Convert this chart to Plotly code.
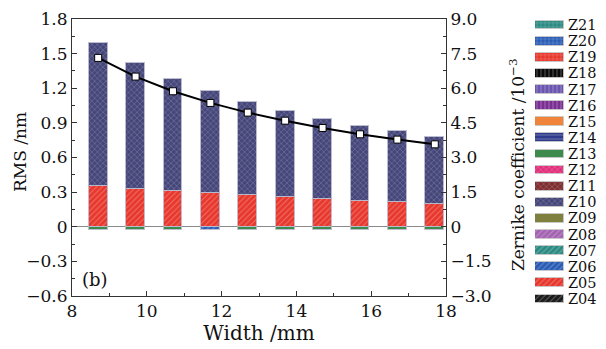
import plotly.graph_objects as go

# ---------------- data ----------------
width_mm = [8.7, 9.7, 10.7, 11.7, 12.7, 13.7, 14.7, 15.7, 16.7, 17.7]
rms_nm = [1.463, 1.301, 1.174, 1.073, 0.989, 0.919, 0.856, 0.801, 0.755, 0.714]

# Zernike coefficients (10^-3), stacked bars on right axis
z05 = [1.77, 1.65, 1.56, 1.48, 1.39, 1.29, 1.20, 1.13, 1.06, 1.00]
z10 = [6.18, 5.44, 4.86, 4.38, 4.00, 3.73, 3.47, 3.25, 3.08, 2.89]
z13 = [-0.12, -0.12, -0.12, 0.0, -0.12, -0.12, -0.12, -0.12, -0.12, -0.12]
z06 = [0.0, 0.0, 0.0, -0.12, 0.0, 0.0, 0.0, 0.0, 0.0, 0.0]

terms = ["Z21", "Z20", "Z19", "Z18", "Z17", "Z16", "Z15", "Z14", "Z13",
         "Z12", "Z11", "Z10", "Z09", "Z08", "Z07", "Z06", "Z05", "Z04"]
term_colors = ["#2b8a82", "#2a5cb5", "#e8372c", "#0a0a0a", "#6a56b0", "#7a2e92",
               "#f0843a", "#2e3a8c", "#3c8a4c", "#e2307c", "#7e2e30", "#45467a",
               "#80803e", "#a462b2", "#2b8a82", "#2a5cb5", "#e8372c", "#1a1a1a"]
term_shapes = ["+", "+", "+", "|", "|", "|", "", "-", "",
               "x", "x", "x", "", "/", "/", "/", "/", "/"]

x_ticks = [8, 10, 12, 14, 16, 18]
rms_ticks = [-0.6, -0.3, 0, 0.3, 0.6, 0.9, 1.2, 1.5, 1.8]
rms_text = ["\u22120.6", "\u22120.3", "0", "0.3", "0.6", "0.9", "1.2", "1.5", "1.8"]
zc_ticks = [-3.0, -1.5, 0, 1.5, 3.0, 4.5, 6.0, 7.5, 9.0]
zc_text = ["\u22123.0", "\u22121.5", "0", "1.5", "3.0", "4.5", "6.0", "7.5", "9.0"]

FONT = "DejaVu Serif"
FS = 17
AX = "#333333"

W, H = 606, 349
ML, MR, MT, MB = 72, 10, 10, 40
PW, PH = W - ML - MR, H - MT - MB


def px_x(p):
    return (p - ML) / PW


def px_y(p):
    return (H - MB - p) / PH


def lighten(hexc, f=0.35):
    h = hexc.lstrip("#")
    r, g, b = int(h[0:2], 16), int(h[2:4], 16), int(h[4:6], 16)
    r = int(r + (255 - r) * f)
    g = int(g + (255 - g) * f)
    b = int(b + (255 - b) * f)
    return f"#{r:02x}{g:02x}{b:02x}"


def pattern_for(name):
    i = terms.index(name)
    c = term_colors[i]
    s = term_shapes[i]
    if s == "":
        return dict(color=c, pattern=dict(shape=""))
    return dict(color=c, pattern=dict(shape=s, bgcolor=c, fgcolor=lighten(c, 0.3),
                                      size=4, solidity=0.25, fillmode="replace"))


fig = go.Figure()

# stacked Zernike bars on the (right-side) coefficient axis "y"
series = {"Z05": z05, "Z10": z10, "Z13": z13, "Z06": z06}
for name in ["Z05", "Z10", "Z13", "Z06"]:
    m = pattern_for(name)
    fig.add_trace(go.Bar(
        x=width_mm, y=series[name], width=0.5, name=name,
        marker=dict(color=m["color"], pattern=m["pattern"],
                    line=dict(color="rgba(190,190,210,0.9)", width=1)),
        yaxis="y", xaxis="x", showlegend=False))

# RMS line on the (left-side) RMS axis "y2", drawn above the bars
fig.add_trace(go.Scatter(
    x=width_mm, y=rms_nm, mode="lines+markers", name="RMS",
    line=dict(color="black", width=2),
    marker=dict(symbol="square", size=7, color="white",
                line=dict(color="black", width=1)),
    yaxis="y2", xaxis="x", showlegend=False))

# legend drawn as a small horizontal-bar subplot
for name in terms:
    m = pattern_for(name)
    fig.add_trace(go.Bar(
        x=[1], y=[name], orientation="h", width=0.55,
        marker=dict(color=m["color"], pattern=m["pattern"],
                    line=dict(color="rgba(200,200,200,0.9)", width=1)),
        xaxis="x3", yaxis="y3", showlegend=False, hoverinfo="skip"))

main_dom_x = [0, px_x(446)]
main_dom_y = [px_y(296), px_y(19)]

fig.update_layout(
    width=W, height=H,
    margin=dict(l=ML, r=MR, t=MT, b=MB),
    paper_bgcolor="white", plot_bgcolor="white",
    font=dict(family=FONT, size=FS, color="#111"),
    barmode="relative", bargap=0,
    xaxis=dict(domain=main_dom_x, range=[8, 18], tickvals=x_ticks,
               ticks="inside", ticklen=5, tickcolor=AX,
               minor=dict(dtick=1, tick0=8, ticks="inside", ticklen=3, tickcolor=AX),
               showline=True, linecolor=AX, linewidth=1, mirror=True,
               showgrid=False, zeroline=False, anchor="y",
               title=dict(text="Width /mm", standoff=2), automargin=False),
    yaxis=dict(domain=main_dom_y, range=[-3.0, 9.0], tickvals=zc_ticks, ticktext=zc_text,
               side="right", anchor="x",
               ticks="inside", ticklen=5, tickcolor=AX,
               minor=dict(dtick=0.75, tick0=0, ticks="inside", ticklen=3, tickcolor=AX),
               showline=True, linecolor=AX, linewidth=1,
               showgrid=False, zeroline=True, zerolinecolor="#8a8a8a", zerolinewidth=1,
               automargin=False),
    yaxis2=dict(range=[-0.6, 1.8], tickvals=rms_ticks, ticktext=rms_text,
                overlaying="y", side="left", anchor="x",
                ticks="inside", ticklen=5, tickcolor=AX,
                minor=dict(dtick=0.15, tick0=0, ticks="inside", ticklen=3, tickcolor=AX),
                showline=True, linecolor=AX, linewidth=1,
                showgrid=False, zeroline=False, automargin=False),
    xaxis3=dict(domain=[px_x(535), px_x(564)], range=[0, 1],
                visible=False, anchor="y3", fixedrange=True),
    yaxis3=dict(domain=[px_y(307), px_y(17)],
                categoryorder="array", categoryarray=terms[::-1],
                range=[-0.5, 17.5], side="right", anchor="x3",
                tickmode="linear", tick0=0, dtick=1,
                showline=False, showgrid=False, zeroline=False, ticks="",
                ticklabelstandoff=3, tickfont=dict(size=14.5), automargin=False,
                fixedrange=True),
    annotations=[
        dict(text="(b)", x=8.62, y=-0.46, xref="x", yref="y2",
             showarrow=False, font=dict(size=18)),
        dict(text="RMS /nm", textangle=-90, x=px_x(20), y=px_y(152),
             xref="paper", yref="paper", xanchor="center", yanchor="middle",
             showarrow=False, font=dict(size=FS)),
        dict(text="Zernike coefficient /10<sup>\u22123</sup>", textangle=-90,
             x=px_x(517), y=px_y(165), xref="paper", yref="paper",
             xanchor="center", yanchor="middle", showarrow=False, font=dict(size=FS)),
    ],
)

fig.write_html("out.html", config={"displayModeBar": False},
               post_script="document.body.style.margin='0';")
